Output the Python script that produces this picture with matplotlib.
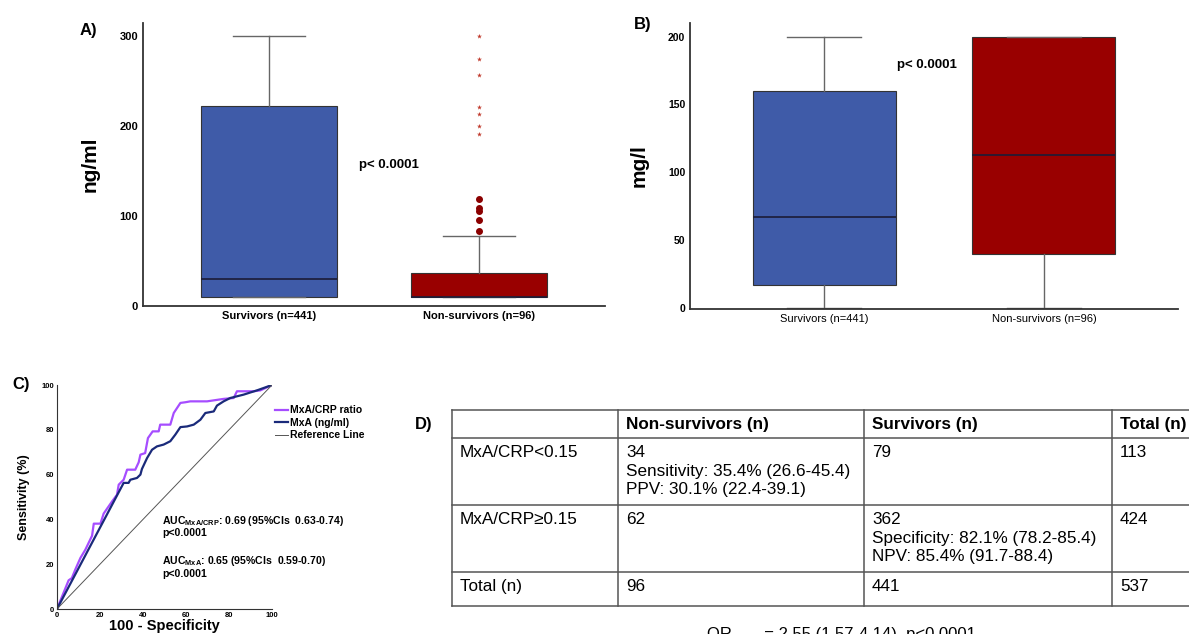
import matplotlib
matplotlib.use("Agg")
import matplotlib.pyplot as plt

plt.rcParams['font.family'] = ['Liberation Sans', 'DejaVu Sans']

W, H = 1189, 634

# ---- data ----
groups = ["Survivors (n=441)", "Non-survivors (n=96)"]

# A) MxA (ng/ml)
mxa_stats = [
    dict(whislo=10, q1=10, med=30, q3=223, whishi=300),
    dict(whislo=10, q1=10, med=10, q3=37, whishi=78),
]
mxa_circles = [83, 96, 106, 109, 119]
mxa_stars = [192, 200, 214, 222, 257, 275, 300]

# B) CRP (mg/l)
crp_stats = [
    dict(whislo=0, q1=17, med=67, q3=160, whishi=200),
    dict(whislo=0, q1=40, med=113, q3=200, whishi=200),
]

# C) ROC curves (100 - specificity, sensitivity)
ratio_x = [0, 5.4, 6.9, 8.5, 10.9, 13.2, 14.7, 16.3, 17.1, 20.2, 21.7, 24, 25.6, 27.9, 28.7,
           31, 32.6, 36.4, 38, 38.8, 41, 42.3, 44.5, 47.3, 48, 52.7, 54.3, 57.4, 59.7, 62,
           69.8, 77.5, 82.2, 83.7, 91.5, 94.6, 100]
ratio_y = [0, 12.8, 13.8, 17.6, 22.8, 26.5, 29.5, 32.7, 38.1, 38.1, 42.6, 45.8, 48, 51, 55.5,
           57.7, 62.2, 62.2, 65.5, 68.9, 69.6, 76.3, 79.3, 79.3, 82.3, 82.3, 87.5, 92, 92.3, 92.7,
           92.7, 93.8, 94.2, 97.2, 97.2, 97.6, 100]
mxa_x = [0, 31, 33.3, 34.1, 37.2, 38.8, 39.5, 41.9, 44.2, 46.5, 49.6, 52.7, 55, 57.4, 60.5,
         63.6, 66.7, 69, 72.9, 74.4, 77.5, 80.6, 86.8, 93, 100]
mxa_y = [0, 56.3, 56.3, 57.7, 58.5, 60, 62.5, 67.4, 71.1, 72.6, 73.4, 74.9, 77.8, 81.2, 81.5,
         82.3, 84.5, 87.5, 88.2, 90.8, 92.7, 94.2, 95.7, 97.6, 100]

# D) table
table_cols = ["", "Non-survivors (n)", "Survivors (n)", "Total (n)"]
table_rows = [
    ["MxA/CRP<0.15", "34\nSensitivity: 35.4% (26.6-45.4)\nPPV: 30.1% (22.4-39.1)", "79", "113"],
    ["MxA/CRP\u22650.15", "62", "362\nSpecificity: 82.1% (78.2-85.4)\nNPV: 85.4% (91.7-88.4)", "424"],
    ["Total (n)", "96", "441", "537"],
]
odds_text = "OR       = 2.55 (1.57-4.14)  p<0.0001"

BLUE = "#3f5ba8"
RED = "#990000"


def px_axes(fig, left, top, right, bottom):
    return fig.add_axes([left / W, 1 - bottom / H, (right - left) / W, (bottom - top) / H])


def style_box_axes(ax):
    for s in ["top", "right"]:
        ax.spines[s].set_visible(False)
    for s in ["left", "bottom"]:
        ax.spines[s].set_color("#333333")
        ax.spines[s].set_linewidth(1.3)
    ax.tick_params(length=0, labelsize=8)


def draw_boxes(ax, stats):
    bp = ax.bxp(stats, positions=[1, 2], widths=0.65, patch_artist=True, showfliers=False,
                whiskerprops=dict(color="#666666", lw=1),
                capprops=dict(color="#666666", lw=1),
                medianprops=dict(color="#1c1c38", lw=1.2),
                boxprops=dict(edgecolor="#333333", lw=0.8))
    for b, c in zip(bp["boxes"], [BLUE, RED]):
        b.set_facecolor(c)
    for cap in bp["caps"]:
        x0, x1 = cap.get_xdata()
        m = (x0 + x1) / 2
        cap.set_xdata([m - 0.17, m + 0.17])


def panel_a(fig):
    ax = px_axes(fig, 143, 23, 605, 306)
    draw_boxes(ax, mxa_stats)
    ax.scatter([2] * len(mxa_circles), mxa_circles, s=16, color="#8b0000", zorder=3)
    ax.scatter([2] * len(mxa_stars), mxa_stars, s=14, marker="*", color="#c0392b", lw=0, zorder=3)
    ax.set_xlim(0.4, 2.6)
    ax.set_ylim(0, 315)
    ax.set_yticks([0, 100, 200, 300])
    ax.set_xticks([1, 2])
    ax.set_xticklabels(groups, fontsize=10.5, fontweight="bold")
    for t in ax.get_yticklabels():
        t.set_fontweight("bold")
    style_box_axes(ax)
    ax.set_ylabel("ng/ml", fontsize=15, fontweight="bold", labelpad=14)
    ax.text(1.43, 157, "p< 0.0001", fontsize=9.5, fontweight="bold", va="center")
    fig.text(80 / W, 1 - 30 / H, "A)", fontsize=12, fontweight="bold", va="center")


def panel_b(fig):
    ax = px_axes(fig, 690, 23, 1178, 309)
    draw_boxes(ax, crp_stats)
    ax.set_xlim(0.39, 2.61)
    ax.set_ylim(-0.8, 210)
    ax.set_yticks([0, 50, 100, 150, 200])
    ax.set_xticks([1, 2])
    ax.set_xticklabels(groups, fontsize=10)
    for t in ax.get_yticklabels():
        t.set_fontweight("bold")
    style_box_axes(ax)
    ax.tick_params(axis="y", labelsize=7.5)
    ax.set_ylabel("mg/l", fontsize=15, fontweight="bold", labelpad=14)
    ax.text(1.33, 179, "p< 0.0001", fontsize=9.5, fontweight="bold", va="center")
    fig.text(634 / W, 1 - 24 / H, "B)", fontsize=12, fontweight="bold", va="center")


def panel_c(fig):
    ax = px_axes(fig, 57, 385, 272, 609)
    l1, = ax.plot(ratio_x, ratio_y, color="#a64dff", lw=1.6, label="MxA/CRP ratio")
    l2, = ax.plot(mxa_x, mxa_y, color="#1a2a7a", lw=1.6, label="MxA (ng/ml)")
    l3, = ax.plot([0, 100], [0, 100], color="#555555", lw=0.7, label="Reference Line")
    ax.set_xlim(0, 100)
    ax.set_ylim(0, 100)
    ax.set_xticks(range(0, 101, 20))
    ax.set_yticks(range(0, 101, 20))
    for s in ["top", "right"]:
        ax.spines[s].set_visible(False)
    for s in ["left", "bottom"]:
        ax.spines[s].set_color("#333333")
    ax.tick_params(length=0, labelsize=5.5, pad=2)
    for t in ax.get_xticklabels() + ax.get_yticklabels():
        t.set_fontweight("bold")
    ax.set_xlabel("100 - Specificity", fontsize=10.5, fontweight="bold", labelpad=0)
    ax.set_ylabel("Sensitivity (%)", fontsize=9, fontweight="bold", labelpad=8)
    fig.legend(handles=[l1, l2, l3], loc="upper left",
               bbox_to_anchor=(270 / W, 1 - 400 / H), frameon=False,
               prop=dict(size=7.5, weight="bold"), handlelength=1.2,
               handletextpad=0.2, labelspacing=0.25, borderpad=0)
    ax.text(49, 37, r"AUC$\mathregular{_{MxA/CRP}}$: 0.69 (95%CIs  0.63-0.74)" + "\np<0.0001",
            fontsize=7.6, fontweight="bold", va="center", linespacing=1.05)
    ax.text(49, 19, r"AUC$\mathregular{_{MxA}}$: 0.65 (95%CIs  0.59-0.70)" + "\np<0.0001",
            fontsize=7.6, fontweight="bold", va="center", linespacing=1.05)
    fig.text(12 / W, 1 - 385 / H, "C)", fontsize=12, fontweight="bold", va="center")


def panel_d(fig):
    tab = fig.add_axes([0, 0, 1, 1])
    tab.set_xlim(0, W)
    tab.set_ylim(H, 0)
    tab.axis("off")
    col_x = [452, 618, 864, 1112, 1205]
    row_y = [410, 438, 505, 572, 606]
    lc = "#555555"
    for y in row_y:
        tab.plot([col_x[0], col_x[-1]], [y, y], color=lc, lw=1.1, clip_on=False)
    for x in col_x:
        tab.plot([x, x], [row_y[0], row_y[-1]], color=lc, lw=1.1, clip_on=False)
    fam = ["Liberation Sans Narrow", "Liberation Sans", "DejaVu Sans"]
    for j, name in enumerate(table_cols):
        tab.text(col_x[j] + 8, (row_y[0] + row_y[1]) / 2 + 1, name, fontsize=12.3,
                 fontweight="bold", va="center", family=fam)
    for i, row in enumerate(table_rows):
        for j, cell in enumerate(row):
            tab.text(col_x[j] + 8, row_y[i + 1] + 7, cell, fontsize=12.3, va="top",
                     family=fam, linespacing=1.3)
    tab.text(415, 425, "D)", fontsize=12, fontweight="bold", va="center")
    tab.text(707, 627, odds_text, fontsize=12, va="top", family=fam)


def main():
    fig = plt.figure(figsize=(W / 100, H / 100), dpi=100)
    panel_a(fig)
    panel_b(fig)
    panel_c(fig)
    panel_d(fig)
    fig.savefig("out.png", dpi=100)


if __name__ == "__main__":
    main()
